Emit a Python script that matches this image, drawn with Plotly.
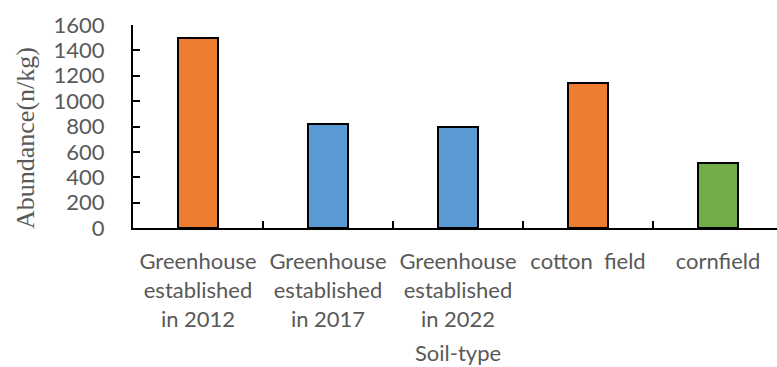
import plotly.graph_objects as go

categories = ["Greenhouse<br>established<br>in 2012", "Greenhouse<br>established<br>in 2017",
              "Greenhouse<br>established<br>in 2022", "cotton\u00a0 field", "cornfield"]
values = [1495, 818, 800, 1142, 515]
colors = ["#ED7D31", "#5B9BD5", "#5B9BD5", "#ED7D31", "#70AD47"]
y_ticks = [0, 200, 400, 600, 800, 1000, 1200, 1400, 1600]

gray = "#595959"
fig = go.Figure()
fig.add_trace(go.Bar(
    x=list(range(len(categories))), y=values,
    marker=dict(color=colors, line=dict(color="black", width=2)),
    width=0.315,
))
fig.update_layout(
    width=777, height=367,
    margin=dict(l=133, r=0, t=25, b=139),
    plot_bgcolor="white", paper_bgcolor="white",
    showlegend=False,
    bargap=0,
)
fig.update_xaxes(
    range=[-0.5, 4.454],
    tickmode="array", tickvals=list(range(len(categories))), ticktext=categories,
    showline=True, linecolor="black", linewidth=2,
    showgrid=False, zeroline=False,
    ticks="", tickfont=dict(family="Lato", size=22, color=gray),
    ticklabelstandoff=13,
)
fig.update_xaxes(
    minor=dict(tickmode="array", tickvals=[0.5, 1.5, 2.5, 3.5], ticks="inside",
               ticklen=7, tickwidth=2, tickcolor="black", showgrid=False)
)
fig.update_yaxes(
    range=[0, 1600], tickvals=y_ticks,
    showline=True, linecolor="black", linewidth=2,
    showgrid=False, zeroline=False,
    ticks="inside", ticklen=7, tickwidth=2, tickcolor="black",
    tickfont=dict(family="Lato", size=22, color=gray),
    ticklabelstandoff=22,
)
fig.add_annotation(text="Abundance(n/kg)", textangle=-90, xref="paper", yref="paper",
                   x=-133/644 + 25/644, y=(228 - 138) / 203, xanchor="center", yanchor="middle",
                   showarrow=False, font=dict(family="Liberation Serif", size=26, color=gray))
fig.add_annotation(text="Soil-type", xref="paper", yref="paper",
                   x=(458 - 133) / 644, y=-(352 - 228) / 203, xanchor="center", yanchor="middle",
                   showarrow=False, font=dict(family="Lato", size=22, color=gray))
fig.write_html("out.html")
